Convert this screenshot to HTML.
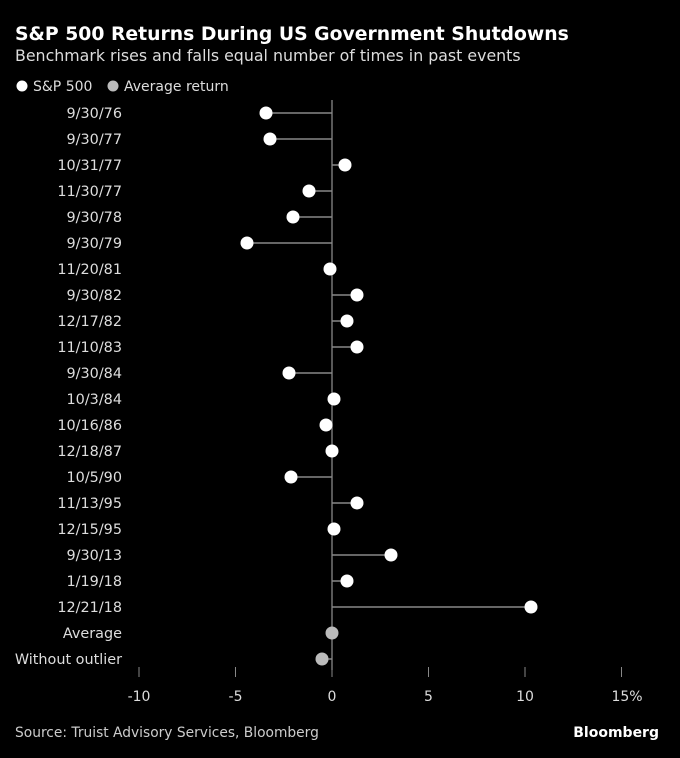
<!DOCTYPE html>
<html><head><meta charset="utf-8"><style>
body{margin:0;background:#000;width:680px;height:754px;overflow:hidden;font-family:"DejaVu Sans",sans-serif;}
</style></head><body>
<svg width="680" height="754" xmlns="http://www.w3.org/2000/svg" font-family="DejaVu Sans, sans-serif">
<rect width="680" height="754" fill="#000"/>
<text x="15" y="40" fill="#fff" font-size="18.8" font-weight="bold">S&amp;P 500 Returns During US Government Shutdowns</text>
<text x="15" y="61" fill="#ddd" font-size="15.8">Benchmark rises and falls equal number of times in past events</text>
<circle cx="22" cy="86" r="5.5" fill="#fff"/><text x="33" y="91" fill="#ddd" font-size="14">S&amp;P 500</text>
<circle cx="113" cy="86" r="5.5" fill="#bbb"/><text x="124" y="91" fill="#ddd" font-size="14">Average return</text>
<line x1="332" y1="100" x2="332" y2="670" stroke="#888" stroke-width="1.3"/>
<g id="rows" font-size="14.4" fill="#ddd" text-anchor="end"></g>
<g font-size="14" fill="#ddd" text-anchor="middle">
<line x1="139" y1="667" x2="139" y2="677" stroke="#888"/><text x="139" y="701">-10</text>
<line x1="235.5" y1="667" x2="235.5" y2="677" stroke="#888"/><text x="235.5" y="701">-5</text>
<line x1="332" y1="667" x2="332" y2="677" stroke="#888"/><text x="332" y="701">0</text>
<line x1="428.5" y1="667" x2="428.5" y2="677" stroke="#888"/><text x="428.5" y="701">5</text>
<line x1="525" y1="667" x2="525" y2="677" stroke="#888"/><text x="525" y="701">10</text>
<line x1="621.5" y1="667" x2="621.5" y2="677" stroke="#888"/><text x="627" y="701">15%</text>
</g>
<text x="15" y="737" fill="#ccc" font-size="13.8">Source: Truist Advisory Services, Bloomberg</text>
<text x="659" y="737" fill="#fff" font-size="14" font-weight="bold" text-anchor="end">Bloomberg</text>
</svg>
<script>
var d=[["9/30/76",266],["9/30/77",270],["10/31/77",345],["11/30/77",309],["9/30/78",293],["9/30/79",247],["11/20/81",330],["9/30/82",357],["12/17/82",347],["11/10/83",357],["9/30/84",289],["10/3/84",334],["10/16/86",326],["12/18/87",332],["10/5/90",291],["11/13/95",357],["12/15/95",334],["9/30/13",391],["1/19/18",347],["12/21/18",531],["Average",332,1],["Without outlier",322,1]];
var g=document.getElementById('rows'),s='';
d.forEach(function(r,i){var y=113+26*i;
s+='<text x="122" y="'+(y+5)+'">'+r[0]+'</text>';
s+='<line x1="332" y1="'+y+'" x2="'+r[1]+'" y2="'+y+'" stroke="#888" stroke-width="1.5"/>';
s+='<circle cx="'+r[1]+'" cy="'+y+'" r="6.5" fill="'+(r[2]?'#bbb':'#fff')+'"/>';});
g.innerHTML=s;
</script>
</body></html>
